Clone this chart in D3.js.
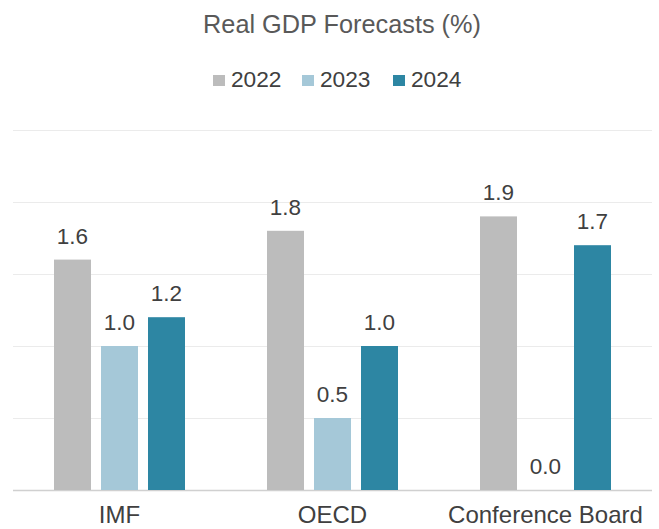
<!DOCTYPE html>
<html lang='en'>
	<head>
		<meta charset='utf-8'>
		<title>Real GDP Forecasts</title>
		<script src="https://cdn.jsdelivr.net/npm/d3@7"></script>
		<style type="text/css">
			body { margin: 0; background: #fff; }
			text { font-family: "Liberation Sans", Arial, sans-serif; }
		</style>
	</head>
	<body>
		<script type='text/javascript'>
			//Chart data
			var categories = ['IMF', 'OECD', 'Conference Board'];
			var years = ['2022', '2023', '2024'];
			var values2022 = [1.6, 1.8, 1.9];
			var values2023 = [1.0, 0.5, 0.0];
			var values2024 = [1.2, 1.0, 1.7];
			var yTicks = [0, 0.5, 1.0, 1.5, 2.0, 2.5];
			var colors = ['#bcbcbc', '#a5c8d8', '#2d86a3'];

			var series = [values2022, values2023, values2024];

			//Width and height
			var w = 659;
			var h = 529;

			var svg = d3.select('body')
						.append('svg')
						.attr('width', w)
						.attr('height', h);

			//Scales
			var x0 = d3.scaleBand()
					   .domain(categories)
					   .range([13, 652])
					   .padding(0);

			var x1 = d3.scaleBand()
					   .domain(years)
					   .range([0, 131])
					   .paddingInner(0.213)
					   .paddingOuter(0);

			var y = d3.scaleLinear()
					  .domain([0, 2.5])
					  .range([490, 130]);

			//Gridlines
			svg.selectAll('line.grid')
			   .data(yTicks)
			   .enter()
			   .append('line')
			   .attr('class', 'grid')
			   .attr('x1', 13)
			   .attr('x2', 652)
			   .attr('y1', function(d) { return Math.round(y(d)) + 0.5; })
			   .attr('y2', function(d) { return Math.round(y(d)) + 0.5; })
			   .attr('stroke', function(d) { return d === 0 ? '#d0d0d0' : '#ebebeb'; })
			   .attr('stroke-width', function(d) { return d === 0 ? 1.5 : 1; });

			//Bars
			var groupOffset = (x0.bandwidth() - 131) / 2;
			var groups = svg.selectAll('g.cat')
							.data(categories)
							.enter()
							.append('g')
							.attr('class', 'cat')
							.attr('transform', function(d) { return 'translate(' + (x0(d) + groupOffset) + ',0)'; });

			groups.each(function(cat, ci) {
				var g = d3.select(this);
				var rows = years.map(function(yr, si) { return { year: yr, value: series[si][ci], color: colors[si] }; });

				g.selectAll('rect')
				 .data(rows)
				 .enter()
				 .append('rect')
				 .attr('x', function(d) { return x1(d.year); })
				 .attr('y', function(d) { return y(d.value); })
				 .attr('width', x1.bandwidth())
				 .attr('height', function(d) { return y(0) - y(d.value); })
				 .attr('fill', function(d) { return d.color; });

				g.selectAll('text')
				 .data(rows)
				 .enter()
				 .append('text')
				 .attr('x', function(d) { return x1(d.year) + x1.bandwidth() / 2; })
				 .attr('y', function(d) { return y(d.value) - 16; })
				 .attr('text-anchor', 'middle')
				 .attr('font-size', 22.5)
				 .attr('fill', '#404040')
				 .text(function(d) { return d.value.toFixed(1); });
			});

			//Category labels
			svg.selectAll('text.cat')
			   .data(categories)
			   .enter()
			   .append('text')
			   .attr('class', 'cat')
			   .attr('x', function(d) { return x0(d) + x0.bandwidth() / 2; })
			   .attr('y', 523)
			   .attr('text-anchor', 'middle')
			   .attr('font-size', 24)
			   .attr('fill', '#404040')
			   .text(function(d) { return d; });

			//Title
			svg.append('text')
			   .attr('x', 342)
			   .attr('y', 33)
			   .attr('text-anchor', 'middle')
			   .attr('font-size', 25.3)
			   .attr('fill', '#595959')
			   .text('Real GDP Forecasts (%)');

			//Legend
			var legendX = [213, 302, 393];
			var legend = svg.selectAll('g.legend')
							.data(years)
							.enter()
							.append('g')
							.attr('class', 'legend')
							.attr('transform', function(d, i) { return 'translate(' + legendX[i] + ',75)'; });

			legend.append('rect')
				  .attr('width', 12)
				  .attr('height', 11)
				  .attr('fill', function(d, i) { return colors[i]; });

			legend.append('text')
				  .attr('x', 18)
				  .attr('y', 12)
				  .attr('font-size', 22.7)
				  .attr('fill', '#404040')
				  .text(function(d) { return d; });
		</script>
	</body>
</html>
